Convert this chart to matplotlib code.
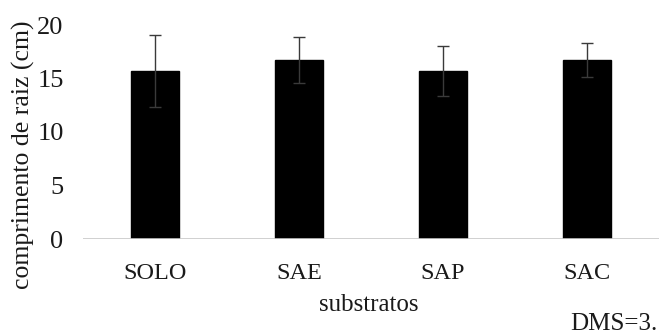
import matplotlib
matplotlib.use("Agg")
import matplotlib.pyplot as plt

categories = ["SOLO", "SAE", "SAP", "SAC"]
means = [15.7, 16.7, 15.7, 16.7]
errors = [3.4, 2.15, 2.35, 1.6]
yticks = [0, 5, 10, 15, 20]

plt.rcParams["font.family"] = ["Liberation Serif", "DejaVu Serif"]

W, H = 659, 335
fig = plt.figure(figsize=(W / 100, H / 100), dpi=100)
ax = fig.add_axes([83 / W, 96 / H, (659 - 83) / W, 214 / H])

x = range(len(categories))
ax.bar(x, means, width=0.33, color="black", edgecolor="black", zorder=2)
ax.errorbar(x, means, yerr=errors, fmt="none", ecolor="#3a3a3a",
            elinewidth=1.0, capsize=4.5, capthick=1.0, zorder=3)
ax.axhline(0, color="#c8c8c8", lw=1.2, zorder=4)

ax.set_xlim(-0.5, 3.5)
ax.set_ylim(0, 20)
ax.set_yticks(yticks)
ax.set_xticks(list(x))
ax.set_xticklabels(categories, fontsize=17.5)
for s in ax.spines.values():
    s.set_visible(False)
ax.tick_params(axis="both", length=0, colors="#1a1a1a")
ax.tick_params(axis="y", pad=14, labelsize=19)
ax.tick_params(axis="x", pad=17)

fig.text(23 / W, 1 - 155 / H, "comprimento de raiz (cm)", rotation=90,
         ha="center", va="center", fontsize=18.5, color="#1a1a1a")
fig.text(369 / W, 1 - 305 / H, "substratos", ha="center", va="center",
         fontsize=18, color="#1a1a1a")
fig.text(570 / W, 1 - 324 / H, "DMS=3.", ha="left", va="center",
         fontsize=18, color="#1a1a1a")

fig.savefig("out.png", dpi=100)
